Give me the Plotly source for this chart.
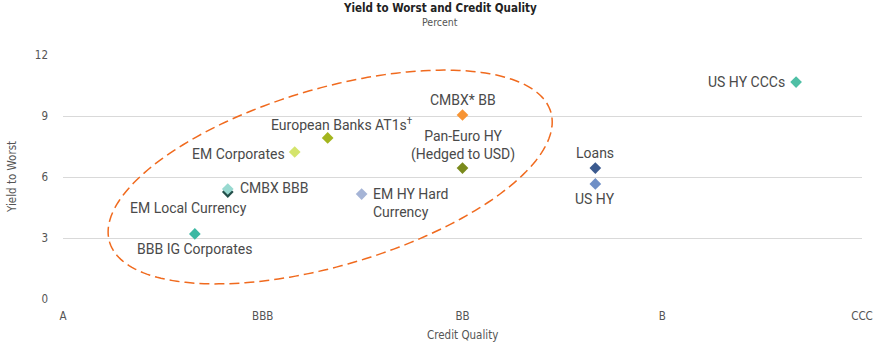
import numpy as np
import plotly.graph_objects as go

# ---- data ----
names = ["US HY CCCs", "CMBX* BB", "European Banks AT1s<sup>†</sup>", "EM Corporates",
         "Pan-Euro HY<br>(Hedged to USD)", "Loans", "US HY", "EM Local Currency",
         "CMBX BBB", "EM HY Hard<br>Currency", "BBB IG Corporates"]
quality = [3.67, 2.0, 1.325, 1.16, 2.0, 2.665, 2.665, 0.825, 0.825, 1.495, 0.66]
ytw = [10.67, 9.05, 7.92, 7.23, 6.44, 6.44, 5.66, 5.26, 5.41, 5.16, 3.2]
colors = ["#4fbfa5", "#f79433", "#a3b51e", "#d4e46c", "#7a8a1c", "#3b5a8f",
          "#6f8fc6", "#234f4a", "#98d9d0", "#a5b4d6", "#3cb8a3"]
# label placement: (xanchor, yanchor, xshift, yshift)
label_pos = [("right", "middle", -9, 0), ("center", "bottom", 0, 5),
             ("center", "bottom", 14, 3), ("right", "middle", -8, -2),
             ("center", "bottom", 0, 3), ("center", "bottom", 0, 5),
             ("center", "top", 0, -5), ("center", "top", -39, -6),
             ("left", "middle", 10, 1), ("left", "middle", 9, -9),
             ("center", "top", 0, -5)]
tick_vals = [0, 1, 2, 3, 4]
tick_text = ["A", "BBB", "BB", "B", "CCC"]
y_ticks = [0, 3, 6, 9, 12]

AX_FONT = "DejaVu Sans Condensed"
L, R, T, B = 63, 18, 55, 46
W, H = 880 - L - R, 345 - T - B

fig = go.Figure()
fig.add_trace(go.Scatter(x=quality, y=ytw, mode="markers",
                         marker=dict(symbol="diamond", size=9, color=colors),
                         hoverinfo="skip", showlegend=False))

for n, xq, yv, (xa, ya, xs, ys) in zip(names, quality, ytw, label_pos):
    fig.add_annotation(x=xq, y=yv, text=n, showarrow=False, xanchor=xa, yanchor=ya,
                       xshift=xs, yshift=ys, align="center" if xa == "center" else "left",
                       font=dict(family="Roboto", size=14, color="#4a4a4a"))

# dashed ellipse (center in data units, semi-axes in px, converted by axis scale)
sx, sy = W / 4.0, H / 12.0
cx, cy, a, b, th = 1.3375, 6.0, 230, 88.5, np.deg2rad(16.4)
t = np.linspace(0, 2 * np.pi, 240)
ex = cx + (a * np.cos(t) * np.cos(th) - b * np.sin(t) * np.sin(th)) / sx
ey = cy + (a * np.cos(t) * np.sin(th) + b * np.sin(t) * np.cos(th)) / sy
path = "M " + " L ".join(f"{xx:.4f},{yy:.4f}" for xx, yy in zip(ex, ey)) + " Z"
fig.add_shape(type="path", path=path, xref="x", yref="y",
              line=dict(color="#f06a1e", width=1.5, dash="10px,5px"))

# titles
fig.add_annotation(text="<b>Yield to Worst and Credit Quality</b>", xref="paper", yref="paper",
                   x=0.5 - (L - R) / 2 / W, y=1 + (T - 8) / H, showarrow=False,
                   xanchor="center", yanchor="middle",
                   font=dict(family=AX_FONT, size=11.5, color="#222222"))
fig.add_annotation(text="Percent", xref="paper", yref="paper",
                   x=0.5 - (L - R) / 2 / W, y=1 + (T - 22) / H, showarrow=False,
                   xanchor="center", yanchor="middle",
                   font=dict(family=AX_FONT, size=10.5, color="#555555"))
fig.add_annotation(text="Yield to Worst", xref="paper", yref="paper", textangle=-90,
                   x=-(L - 12) / W, y=0.5, showarrow=False,
                   xanchor="center", yanchor="middle",
                   font=dict(family=AX_FONT, size=11.5, color="#555555"))
fig.add_annotation(text="Credit Quality", xref="paper", yref="paper",
                   x=0.5, y=-(335 - (T + H)) / H, showarrow=False,
                   xanchor="center", yanchor="middle",
                   font=dict(family=AX_FONT, size=11.5, color="#555555"))

fig.update_layout(
    width=880, height=345, margin=dict(l=L, r=R, t=T, b=B),
    plot_bgcolor="white", paper_bgcolor="white",
    xaxis=dict(range=[0, 4], tickvals=tick_vals, ticktext=tick_text, showgrid=False,
               zeroline=False, showline=False, ticks="", ticklabelstandoff=8,
               automargin=False,
               tickfont=dict(family=AX_FONT, size=11.5, color="#555555")),
    yaxis=dict(range=[0, 12], tickvals=y_ticks, showgrid=True, gridcolor="#d9d9d9",
               gridwidth=1, zeroline=False, showline=False, ticks="", ticklabelstandoff=14,
               automargin=False,
               tickfont=dict(family=AX_FONT, size=11.5, color="#555555")),
)
fig.write_html("out.html")
